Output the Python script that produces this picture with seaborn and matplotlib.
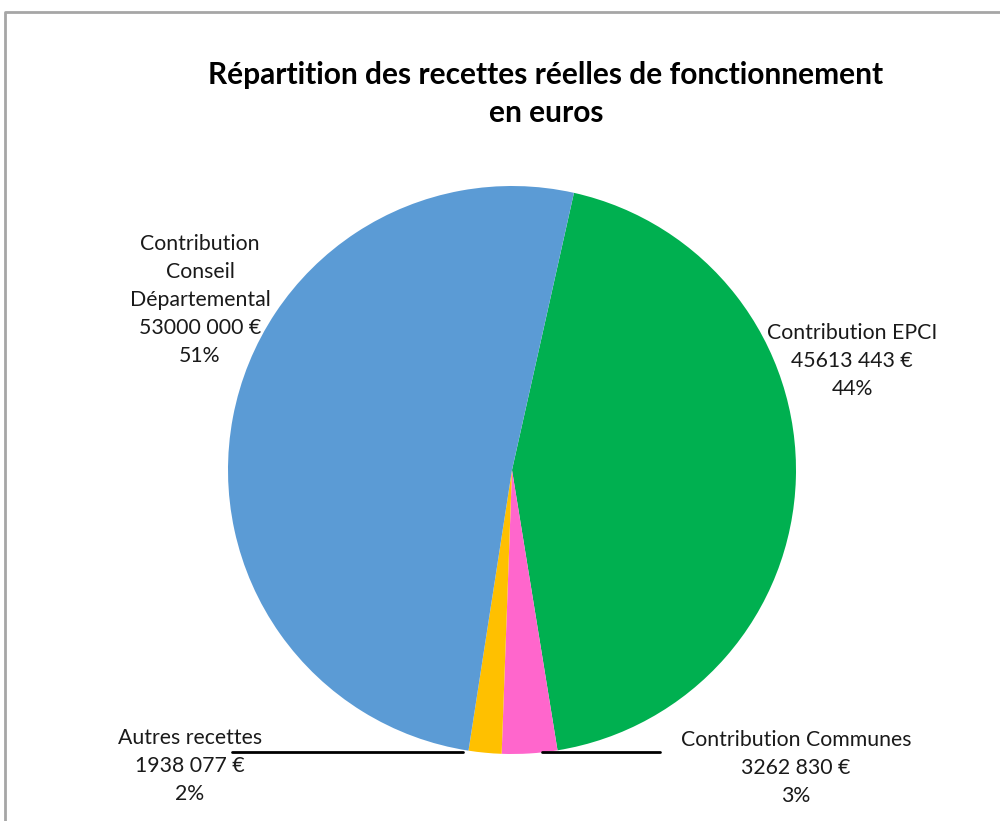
import numpy as np
import matplotlib
matplotlib.use('Agg')
import matplotlib.pyplot as plt
import seaborn as sns

# données
categories = ['Contribution EPCI', 'Contribution Communes', 'Autres recettes',
              'Contribution Conseil Départemental']
montants = [45613443, 3262830, 1938077, 53000000]
montants_txt = ['45613 443 €', '3262 830 €', '1938 077 €', '53000 000 €']
pourcents = ['44%', '3%', '2%', '51%']
couleurs = ['#00B050', '#FF66CC', '#FFC000', '#5B9BD5']
titre = 'Répartition des recettes réelles de fonctionnement\nen euros'

sns.set_theme(style='white')
plt.rcParams['font.family'] = ['Lato', 'DejaVu Sans']

W, H = 1000, 821
fig = plt.figure(figsize=(W / 100, H / 100), dpi=100)
ax = fig.add_axes([0, 0, 1, 1])

cx, cy, r = 512, H - 470, 284
wedges, _ = ax.pie(montants, colors=couleurs, startangle=77.4, counterclock=False,
                   center=(cx, cy), radius=r, wedgeprops=dict(linewidth=0))
ax.set_xlim(0, W)
ax.set_ylim(0, H)
ax.set_aspect('equal')
ax.axis('off')

# cadre gris (coupé à droite et en bas)
ax.plot([5, 5, W + 10], [-10, H - 12, H - 12], color='#A6A6A6', lw=2, clip_on=False)

ax.text(546, H - 94, titre, ha='center', va='center', fontsize=21.5, fontweight='bold',
        color='black', linespacing=1.4)

lbl = dict(ha='center', va='center', fontsize=15.3, color='#1a1a1a', linespacing=1.5)
ax.text(852, H - 361, 'Contribution EPCI\n' + montants_txt[0] + '\n' + pourcents[0], **lbl)
ax.text(200, H - 300, 'Contribution\nConseil\nDépartemental\n' + montants_txt[3] + '\n'
        + pourcents[3], **lbl)
ax.text(190, H - 766, 'Autres recettes\n' + montants_txt[2] + '\n' + pourcents[2], **lbl)
ax.text(796, H - 768, 'Contribution Communes\n' + montants_txt[1] + '\n' + pourcents[1], **lbl)

# lignes de rappel vers les petites parts
for w, x_end in [(wedges[2], 232), (wedges[1], 660)]:
    th = np.deg2rad((w.theta1 + w.theta2) / 2)
    px, py = cx + r * np.cos(th), cy + r * np.sin(th)
    xs = px - 22 if x_end < px else px + 12
    ax.plot([x_end, xs], [H - 752, H - 752], color='black', lw=2)

fig.savefig('out.png', dpi=100, facecolor='white')
